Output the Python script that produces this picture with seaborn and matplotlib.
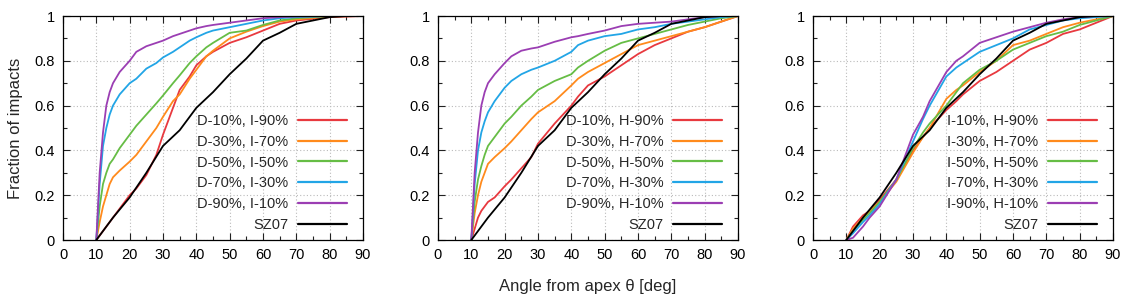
import numpy as np
import pandas as pd
import matplotlib
matplotlib.use("Agg")
import matplotlib.pyplot as plt
from matplotlib.ticker import MultipleLocator, FuncFormatter
import seaborn as sns

# ---------------- data ----------------
sz07_x = [10, 15, 20, 25, 30, 35, 40, 45, 50, 55, 60, 65, 70, 75, 80, 85, 90]
sz07_y = [0, 0.10, 0.19, 0.30, 0.42, 0.49, 0.59, 0.66, 0.74, 0.81, 0.89, 0.925, 0.965, 0.98, 0.995, 1.0, 1.0]

# Panel 1 : D / I mixtures
p1_labels = ["D-10%, I-90%", "D-30%, I-70%", "D-50%, I-50%", "D-70%, I-30%", "D-90%, I-10%"]
p1_x = [10, 11, 12, 13, 14, 15, 17, 20, 22, 25, 28, 30, 33, 35, 38, 40, 43, 45, 50, 55, 60, 65, 70, 80, 90]
p1_red    = [0, 0.02, 0.04, 0.06, 0.08, 0.10, 0.14, 0.20, 0.23, 0.29, 0.38, 0.47, 0.59, 0.67, 0.73, 0.78, 0.82, 0.84, 0.88, 0.905, 0.935, 0.965, 0.98, 0.995, 1.0]
p1_orange = [0, 0.08, 0.15, 0.20, 0.25, 0.28, 0.31, 0.35, 0.38, 0.44, 0.50, 0.55, 0.62, 0.65, 0.72, 0.76, 0.82, 0.845, 0.90, 0.93, 0.955, 0.975, 0.985, 0.998, 1.0]
p1_green  = [0, 0.15, 0.25, 0.30, 0.34, 0.36, 0.41, 0.47, 0.51, 0.56, 0.61, 0.645, 0.70, 0.735, 0.79, 0.82, 0.86, 0.88, 0.925, 0.935, 0.96, 0.98, 0.99, 1.0, 1.0]
p1_blue   = [0, 0.25, 0.42, 0.50, 0.56, 0.60, 0.65, 0.70, 0.72, 0.765, 0.79, 0.815, 0.84, 0.86, 0.89, 0.905, 0.925, 0.935, 0.95, 0.965, 0.98, 0.99, 0.995, 1.0, 1.0]
p1_purple = [0, 0.30, 0.48, 0.60, 0.66, 0.70, 0.75, 0.80, 0.84, 0.865, 0.88, 0.89, 0.91, 0.92, 0.935, 0.945, 0.955, 0.96, 0.97, 0.98, 0.99, 0.995, 0.998, 1.0, 1.0]

# Panel 2 : D / H mixtures
p2_labels = ["D-10%, H-90%", "D-30%, H-70%", "D-50%, H-50%", "D-70%, H-30%", "D-90%, H-10%"]
p2_x = [10, 11, 12, 13, 14, 15, 17, 20, 22, 25, 28, 30, 35, 40, 42, 45, 50, 55, 60, 65, 70, 75, 80, 85, 90]
p2_red    = [0, 0.05, 0.10, 0.13, 0.15, 0.17, 0.19, 0.24, 0.27, 0.32, 0.37, 0.43, 0.52, 0.60, 0.64, 0.69, 0.73, 0.78, 0.83, 0.87, 0.90, 0.93, 0.95, 0.975, 1.0]
p2_orange = [0, 0.12, 0.20, 0.26, 0.30, 0.34, 0.37, 0.41, 0.44, 0.49, 0.54, 0.57, 0.62, 0.69, 0.72, 0.75, 0.79, 0.83, 0.87, 0.89, 0.91, 0.93, 0.95, 0.975, 1.0]
p2_green  = [0, 0.17, 0.27, 0.33, 0.38, 0.42, 0.46, 0.52, 0.55, 0.60, 0.64, 0.67, 0.71, 0.74, 0.77, 0.80, 0.845, 0.88, 0.90, 0.92, 0.94, 0.96, 0.975, 0.99, 1.0]
p2_blue   = [0, 0.25, 0.40, 0.48, 0.53, 0.57, 0.62, 0.68, 0.71, 0.74, 0.76, 0.77, 0.80, 0.84, 0.87, 0.89, 0.91, 0.92, 0.94, 0.95, 0.965, 0.975, 0.985, 0.995, 1.0]
p2_purple = [0, 0.30, 0.48, 0.60, 0.66, 0.70, 0.74, 0.79, 0.82, 0.845, 0.855, 0.86, 0.885, 0.905, 0.91, 0.92, 0.935, 0.955, 0.965, 0.97, 0.975, 0.985, 0.995, 1.0, 1.0]

# Panel 3 : I / H mixtures
p3_labels = ["I-10%, H-90%", "I-30%, H-70%", "I-50%, H-50%", "I-70%, H-30%", "I-90%, H-10%"]
p3_x = [10, 12, 15, 17, 20, 25, 30, 33, 35, 40, 43, 45, 50, 55, 60, 65, 70, 75, 80, 85, 90]
p3_red    = [0, 0.06, 0.11, 0.13, 0.18, 0.27, 0.40, 0.46, 0.50, 0.58, 0.62, 0.65, 0.71, 0.75, 0.80, 0.85, 0.88, 0.92, 0.94, 0.97, 1.0]
p3_orange = [0, 0.05, 0.10, 0.13, 0.17, 0.26, 0.39, 0.46, 0.50, 0.63, 0.67, 0.69, 0.75, 0.80, 0.87, 0.89, 0.92, 0.95, 0.97, 0.985, 1.0]
p3_green  = [0, 0.04, 0.09, 0.12, 0.17, 0.27, 0.41, 0.48, 0.52, 0.60, 0.66, 0.70, 0.76, 0.80, 0.85, 0.88, 0.91, 0.93, 0.96, 0.98, 1.0]
p3_blue   = [0, 0.03, 0.08, 0.11, 0.16, 0.27, 0.44, 0.54, 0.60, 0.73, 0.77, 0.79, 0.84, 0.87, 0.90, 0.94, 0.96, 0.98, 0.99, 0.995, 1.0]
p3_purple = [0, 0.01, 0.06, 0.10, 0.15, 0.27, 0.47, 0.55, 0.62, 0.75, 0.80, 0.82, 0.88, 0.905, 0.93, 0.95, 0.97, 0.985, 0.995, 1.0, 1.0]

x_ticks = [0, 10, 20, 30, 40, 50, 60, 70, 80, 90]
y_ticks = [0, 0.2, 0.4, 0.6, 0.8, 1.0]

colors = ["#e8393f", "#ff8a1c", "#66bd45", "#22a5e6", "#9b3eb3"]

panels = [
    (p1_labels, p1_x, [p1_red, p1_orange, p1_green, p1_blue, p1_purple]),
    (p2_labels, p2_x, [p2_red, p2_orange, p2_green, p2_blue, p2_purple]),
    (p3_labels, p3_x, [p3_red, p3_orange, p3_green, p3_blue, p3_purple]),
]

# ---------------- style ----------------
sns.set_theme(style="ticks")
plt.rcParams["font.family"] = ["Liberation Sans", "DejaVu Sans"]
plt.rcParams["font.size"] = 10

fig = plt.figure(figsize=(11.28, 3.03), dpi=100)
lefts = [63 / 1128, 438 / 1128, 813 / 1128]
w = 300 / 1128
b = 1 - 240 / 303
h = 224 / 303

for i, (labels, xs, ys) in enumerate(panels):
    ax = fig.add_axes([lefts[i], b, w, h])
    for lab, yv, c in zip(labels, ys, colors):
        df = pd.DataFrame({"x": xs, "y": yv})
        sns.lineplot(data=df, x="x", y="y", ax=ax, color=c, lw=1.3, label=lab,
                     sort=False, estimator=None)
    df = pd.DataFrame({"x": sz07_x, "y": sz07_y})
    sns.lineplot(data=df, x="x", y="y", ax=ax, color="black", lw=1.3, label="SZ07",
                 sort=False, estimator=None)

    ax.set_xlim(0, 90)
    ax.set_ylim(0, 1)
    ax.set_xticks(x_ticks)
    ax.set_yticks(y_ticks)
    ax.yaxis.set_major_formatter(FuncFormatter(lambda v, p: f"{v:g}"))
    ax.xaxis.set_minor_locator(MultipleLocator(5))
    ax.yaxis.set_minor_locator(MultipleLocator(0.1))
    ax.tick_params(which="both", direction="in", top=True, right=True,
                   labelsize=10.5, colors="#222222", labelcolor="black")
    ax.tick_params(which="major", length=5, width=0.8, pad=6)
    ax.tick_params(which="minor", length=3, width=0.8)
    for s in ax.spines.values():
        s.set_linewidth(0.9)
        s.set_color("black")
    ax.grid(True, which="major", color="#bbbbbb", linestyle=(0, (1, 2)), lw=0.8)
    ax.set_xlabel("")
    ax.set_ylabel("")

    leg = ax.legend(loc="lower right", bbox_to_anchor=(0.945, 0.035), frameon=False,
                    markerfirst=False, fontsize=10.5, handlelength=3.3,
                    handletextpad=0.7, labelspacing=0.47, borderpad=0, borderaxespad=0)
    for line in leg.get_lines():
        line.set_linewidth(1.6)

    if i == 0:
        ax.set_ylabel("Fraction of impacts", fontsize=12, labelpad=8)
    if i == 1:
        ax.set_xlabel("Angle from apex θ [deg]", fontsize=12, labelpad=12)

fig.savefig("out.png", dpi=100)
